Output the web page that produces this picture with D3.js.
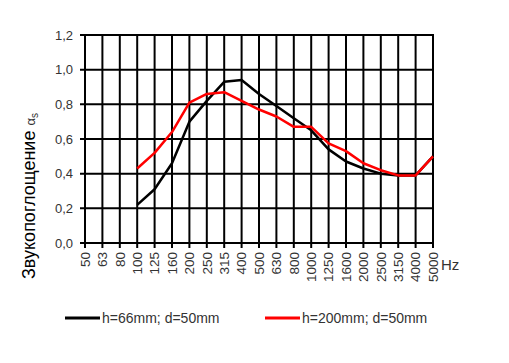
<!DOCTYPE html>
<html>
<head>
<meta charset="utf-8">
<script src="https://cdn.jsdelivr.net/npm/d3@7"></script>
<style>
  body { margin: 0; background: #fff; }
  text { font-family: "Liberation Sans", Arial, sans-serif; }
</style>
</head>
<body>
<div id="chart"></div>
<script>
const freqs = ['50', '63', '80', '100', '125', '160', '200', '250', '315', '400', '500',
  '630', '800', '1000', '1250', '1600', '2000', '2500', '3150', '4000', '5000'];
const dataFreqs = ['100', '125', '160', '200', '250', '315', '400', '500', '630', '800',
  '1000', '1250', '1600', '2000', '2500', '3150', '4000', '5000'];
const h66 = [0.22, 0.31, 0.46, 0.70, 0.82, 0.93, 0.94, 0.86, 0.79, 0.72, 0.65, 0.54, 0.47, 0.43, 0.40, 0.39, 0.39, 0.50];
const h200 = [0.43, 0.52, 0.64, 0.81, 0.86, 0.87, 0.82, 0.77, 0.73, 0.67, 0.67, 0.575, 0.53, 0.46, 0.42, 0.39, 0.39, 0.50];
const yTicks = [0, 0.2, 0.4, 0.6, 0.8, 1.0, 1.2];
const seriesNames = ['h=66mm; d=50mm', 'h=200mm; d=50mm'];
const seriesColors = ['#000000', '#ff0000'];

const width = 509, height = 363;
const svg = d3.select('#chart').append('svg').attr('width', width).attr('height', height);

const x = d3.scalePoint().domain(freqs).range([85, 433]);
const y = d3.scaleLinear().domain([0, 1.2]).range([243, 35]);

// grid
const grid = svg.append('g').attr('stroke', '#000').attr('stroke-width', 2);
grid.selectAll('line.v').data(freqs).join('line')
  .attr('class', 'v')
  .attr('x1', d => x(d)).attr('x2', d => x(d))
  .attr('y1', y(1.2) - 1).attr('y2', y(0) + 5);
grid.selectAll('line.h').data(yTicks).join('line')
  .attr('class', 'h')
  .attr('x1', x('50') - 5).attr('x2', x('5000') + 1)
  .attr('y1', d => y(d)).attr('y2', d => y(d));

// y labels
svg.append('g').selectAll('text').data(yTicks).join('text')
  .attr('x', 73).attr('y', d => y(d))
  .attr('dy', '0.35em')
  .attr('text-anchor', 'end')
  .attr('font-size', 13)
  .attr('fill', '#333')
  .text(d => d3.format('.1f')(d).replace('.', ','));

// x labels
svg.append('g').selectAll('text').data(freqs).join('text')
  .attr('transform', d => `translate(${x(d)},252) rotate(-90)`)
  .attr('dy', '0.35em')
  .attr('text-anchor', 'end')
  .attr('font-size', 13.5)
  .attr('fill', '#333')
  .text(d => d);

svg.append('text')
  .attr('x', 441).attr('y', 270)
  .attr('font-size', 15)
  .attr('fill', '#333')
  .text('Hz');

// y title
const title = svg.append('text')
  .attr('transform', 'translate(35,279) rotate(-90)')
  .attr('font-size', 18)
  .attr('fill', '#000');
title.append('tspan').text('Звукопоглощение ');
title.append('tspan').attr('font-size', 13).attr('fill', '#333').text('α');
title.append('tspan').attr('font-size', 10).attr('fill', '#333').attr('dy', 3).text('s');

// lines
const line = d3.line().x(d => x(d[0])).y(d => y(d[1]));
[h66, h200].forEach((vals, i) => {
  svg.append('path')
    .datum(dataFreqs.map((f, j) => [f, vals[j]]))
    .attr('fill', 'none')
    .attr('stroke', seriesColors[i])
    .attr('stroke-width', 2.5)
    .attr('stroke-linejoin', 'round')
    .attr('d', line);
});

// legend
const legend = svg.append('g');
const legX = [65, 265];
seriesNames.forEach((name, i) => {
  legend.append('line')
    .attr('x1', legX[i]).attr('x2', legX[i] + 35)
    .attr('y1', 318).attr('y2', 318)
    .attr('stroke', seriesColors[i]).attr('stroke-width', 3);
  legend.append('text')
    .attr('x', legX[i] + 37).attr('y', 318)
    .attr('dy', '0.35em')
    .attr('font-size', 14)
    .attr('fill', '#333')
    .text(name);
});
</script>
</body>
</html>
